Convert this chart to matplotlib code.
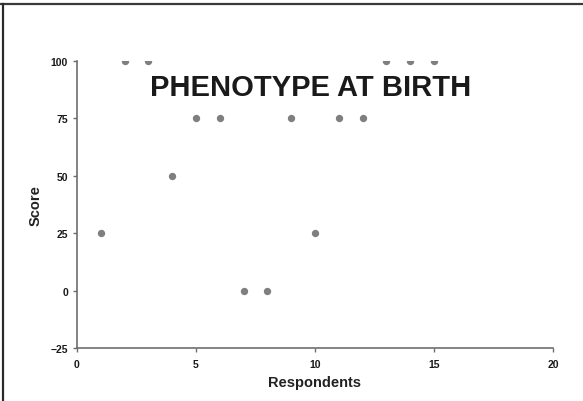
import matplotlib.pyplot as plt
from matplotlib.lines import Line2D

# data
respondents = [1, 2, 3, 4, 5, 6, 7, 8, 9, 10, 11, 12, 13, 14, 15]
score = [25, 100, 100, 50, 75, 75, 0, 0, 75, 25, 75, 75, 100, 100, 100]
x_ticks = [0, 5, 10, 15, 20]
y_ticks = [-25, 0, 25, 50, 75, 100]

plt.rcParams['font.family'] = ['Liberation Sans', 'DejaVu Sans']

fig = plt.figure(figsize=(5.83, 4.02), dpi=100)
ax = fig.add_axes([0.132, 0.132, 0.8165, 0.714])

ax.scatter(respondents, score, s=28, color='#7f7f7f', zorder=3, linewidths=0)

ax.set_xlim(0, 20)
ax.set_ylim(-25, 100)
ax.set_xticks(x_ticks)
ax.set_yticks(y_ticks)
for s in ['top', 'right']:
    ax.spines[s].set_visible(False)
for s in ['left', 'bottom']:
    ax.spines[s].set_color('#6e6e6e')
    ax.spines[s].set_linewidth(1.2)
ax.tick_params(colors='#6e6e6e', length=3, width=1, labelcolor='#1a1a1a', labelsize=7.5)
ax.tick_params(axis='x', pad=5)
for lab in ax.get_xticklabels() + ax.get_yticklabels():
    lab.set_fontweight('bold')

ax.set_xlabel('Respondents', fontsize=10.5, fontweight='bold', labelpad=4, color='#222222')
ax.set_ylabel('Score', fontsize=10.5, fontweight='bold', labelpad=6, color='#222222')

ax.text(0.49, 0.909, 'PHENOTYPE AT BIRTH', transform=ax.transAxes,
        ha='center', va='center', fontsize=21, fontweight='bold', color='#1a1a1a')

# frame lines of the scanned page
fig.add_artist(Line2D([0, 1], [1 - 5 / 402, 1 - 5 / 402], transform=fig.transFigure,
                      color='#3a3a3a', linewidth=1.6))
fig.add_artist(Line2D([3 / 583, 3 / 583], [0, 1 - 5 / 402], transform=fig.transFigure,
                      color='#2a2a2a', linewidth=1.6))

fig.savefig('out.png', dpi=100)
